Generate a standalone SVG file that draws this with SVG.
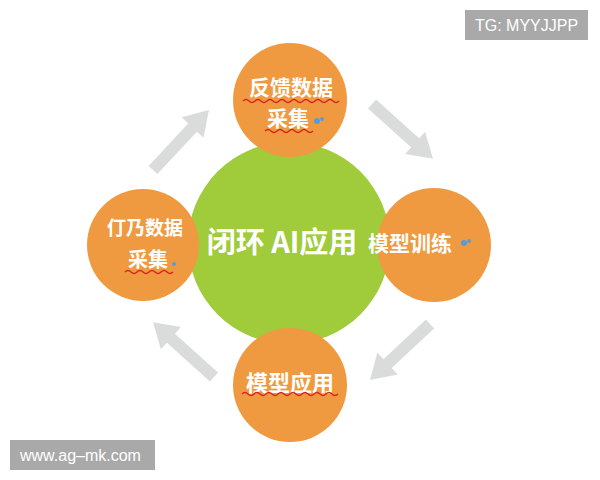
<svg xmlns="http://www.w3.org/2000/svg" width="600" height="480" viewBox="0 0 600 480">
<style>
.orb{fill:#EF9A40}
.t{font-family:"Noto Sans CJK SC","Noto Sans",sans-serif;font-weight:bold;fill:#fff;text-anchor:middle}
.wave{fill:none;stroke:#D9261C;stroke-width:1.5}
.arr{fill:#DADCDC}
.wm{fill:#A9A9A9}
.wt{font-family:"Liberation Sans",Arial,sans-serif;fill:#fff;font-size:16px}
.ic{fill:#5B9BD5}
</style>
<defs>
<path id="arrow" d="M0,-6 L58,-6 L58,-15 L82,0 L58,15 L58,6 L0,6 Z"/>
</defs>
<rect width="600" height="480" fill="#fff"/>
<g id="connectors">
<use href="#arrow" class="arr" transform="translate(153,170) rotate(-47)"/>
<use href="#arrow" class="arr" transform="translate(372,104) rotate(42)"/>
<use href="#arrow" class="arr" transform="translate(430,324) rotate(137)"/>
<use href="#arrow" class="arr" transform="translate(214,377) rotate(-138)"/>
</g>
<g id="node-center">
<circle cx="289" cy="243" r="101" fill="#A0CB3A"/>
</g>
<g id="node-top">
<circle class="orb" cx="290" cy="100" r="57"/>
</g>
<g id="node-left">
<circle class="orb" cx="143" cy="245" r="56"/>
</g>
<g id="node-right">
<circle class="orb" cx="434" cy="245" r="57"/>
</g>
<g id="node-bottom">
<circle class="orb" cx="290" cy="385" r="57"/>
</g>
<g id="labels">
<text class="t" x="282" y="253" font-size="29" font-weight="500">闭环 AI应用</text>
<text class="t" x="291" y="95" font-size="21">反馈数据</text>
<path class="wave" d="M243,101 q3,-3 6,0 t6,0 t6,0 t6,0 t6,0 t6,0 t6,0 t6,0 t6,0 t6,0 t6,0 t6,0 t6,0 t6,0 t6,0 t6,0"/>
<text class="t" x="288" y="126" font-size="21">采集</text>
<path class="wave" d="M265,131 q3,-3 6,0 t6,0 t6,0 t6,0 t6,0 t6,0 t6,0 t6,0"/>
<circle class="ic" cx="317" cy="121" r="3"/><circle class="ic" cx="322" cy="119" r="2"/>
<text class="t" x="145" y="235" font-size="19">仃乃数据</text>
<text class="t" x="148" y="267" font-size="20">采集</text>
<path class="wave" d="M125,272 q3,-3 6,0 t6,0 t6,0 t6,0 t6,0 t6,0 t6,0 t6,0"/>
<circle class="ic" cx="174" cy="264" r="2"/>
<text class="t" x="410" y="251" font-size="21">模型训练</text>
<circle class="ic" cx="464" cy="243" r="3"/><circle class="ic" cx="469" cy="241" r="2"/>
<text class="t" x="290" y="391" font-size="22">模型应用</text>
<path class="wave" d="M242,394 q3,-3 6,0 t6,0 t6,0 t6,0 t6,0 t6,0 t6,0 t6,0 t6,0 t6,0 t6,0 t6,0 t6,0 t6,0 t6,0 t6,0"/>
</g>
<g id="watermarks">
<rect class="wm" x="465" y="10" width="123" height="30"/>
<text class="wt" x="475" y="31">TG: MYYJJPP</text>
<rect class="wm" x="10" y="440" width="145" height="30"/>
<text class="wt" x="20" y="461">www.ag–mk.com</text>
</g>
</svg>
